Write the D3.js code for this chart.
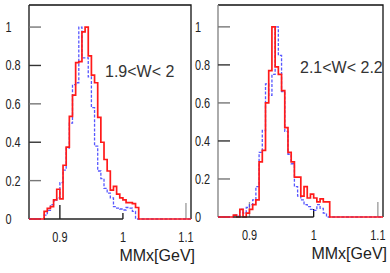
<!DOCTYPE html>
<html>
<head>
<meta charset="utf-8">
<script src="https://cdn.jsdelivr.net/npm/d3@7"></script>
<style>
  body { margin: 0; background: #fff; }
  svg { display: block; }
  text { font-family: "Liberation Sans", Arial, sans-serif; }
</style>
</head>
<body>
<svg width="390" height="273"></svg>
<script>
// lower edges of the MMx bins [GeV]
const bins = [0.875, 0.880, 0.885, 0.890, 0.895, 0.900, 0.905, 0.910, 0.915, 0.920,
              0.925, 0.930, 0.935, 0.940, 0.945, 0.950, 0.955, 0.960, 0.965, 0.970,
              0.975, 0.980, 0.985, 0.990, 0.995, 1.000, 1.005, 1.010, 1.015, 1.020];
const binWidth = 0.005;

// 1.9 < W < 2
const redLeft  = [0.04, 0.055, 0.065, 0.10, 0.155, 0.105, 0.28, 0.375, 0.535, 0.645,
                  0.815, 0.82, 0.975, 1.0, 0.85, 0.75, 0.71, 0.53, 0.40, 0.31,
                  0.25, 0.15, 0.17, 0.13, 0.11, 0.10, 0.085, 0.085, 0.08, 0.06];
const blueLeft = [0.02, 0.045, 0.075, 0.095, 0.11, 0.19, 0.255, 0.37, 0.50, 0.70,
                  0.71, 1.0, 0.84, 0.84, 0.74, 0.58, 0.38, 0.25, 0.21, 0.16,
                  0.135, 0.11, 0.064, 0.057, 0.052, 0.047, 0.06, 0.057, 0.04, 0];

// 2.1 < W < 2.2
const redRight  = [0.01, 0, 0.04, 0, 0.02, 0.04, 0.065, 0.09, 0.29, 0.35,
                   0.60, 0.77, 1.0, 0.79, 0.75, 0.665, 0.47, 0.34, 0.29, 0.21,
                   0.21, 0.11, 0.16, 0.10, 0.12, 0.10, 0.08, 0.095, 0.08, 0.08];
const blueRight = [0.01, 0.005, 0.04, 0.02, 0.05, 0.065, 0.09, 0.16, 0.34, 0.455,
                   0.70, 0.64, 0.75, 1.0, 0.85, 0.66, 0.45, 0.33, 0.28, 0.16,
                   0.11, 0.09, 0.065, 0.055, 0.04, 0.035, 0.065, 0.045, 0.02, 0];

const xTicks = [0.9, 1, 1.1];
const yTicks = [0, 0.2, 0.4, 0.6, 0.8, 1];
const wLabels = ["1.9<W< 2", "2.1<W< 2.2"];
const xTitle = "MMx[GeV]";

const svg = d3.select("svg");

const panels = [
  { red: redLeft, blue: blueLeft, label: wLabels[0],
    left: 29, right: 191, top: 5, bottom: 219, yLab: 5.5,
    labX: 105, labY: 77, axisCol: "#222",
    xt: [{len: 14, col: "#111"}, {len: 6, col: "#111"}, {len: 16, col: "#999"}] },
  { red: redRight, blue: blueRight, label: wLabels[1],
    left: 218, right: 383, top: 5, bottom: 217, yLab: 195,
    labX: 300, labY: 73, axisCol: "#888",
    xt: [{len: 15, col: "#999"}, {len: 8, col: "#111"}, {len: 15, col: "#999"}] }
];

const histLine = d3.line().curve(d3.curveStepAfter);

panels.forEach(p => {
  const x = d3.scaleLinear().domain([0.851, 1.108]).range([p.left, p.right]);
  const y = d3.scaleLinear().domain([0, 1.115]).range([p.bottom, p.top]);
  const g = svg.append("g");

  // frame
  g.append("path")
    .attr("d", `M${p.left} ${p.top} L${p.right} ${p.top} L${p.right} ${p.bottom}`)
    .attr("fill", "none").attr("stroke", "#111").attr("stroke-width", 1.3);
  g.append("line")
    .attr("x1", p.left).attr("x2", p.left).attr("y1", p.top).attr("y2", p.bottom)
    .attr("stroke", p.axisCol).attr("stroke-width", 1.4);

  // y ticks + labels
  g.selectAll(".yt").data(yTicks).join("line")
    .attr("x1", p.left).attr("x2", p.left + 12)
    .attr("y1", d => y(d)).attr("y2", d => y(d))
    .attr("stroke", (d, i) => i % 2 ? "#777" : "#333").attr("stroke-width", 1.4);
  g.selectAll(".yl").data(yTicks).join("text")
    .attr("transform", d => `translate(${p.yLab},${y(d) + 5}) scale(0.78,1)`)
    .attr("font-size", 14).attr("fill", "#222")
    .text(d => d3.format("~g")(d));

  // x ticks + labels
  g.selectAll(".xt").data(xTicks).join("line")
    .attr("x1", d => x(d)).attr("x2", d => x(d))
    .attr("y1", p.bottom).attr("y2", (d, i) => p.bottom - p.xt[i].len)
    .attr("stroke", (d, i) => p.xt[i].col).attr("stroke-width", 1.3);
  g.selectAll(".xl").data(xTicks).join("text")
    .attr("transform", d => `translate(${x(d)},${p.bottom + 23}) scale(0.78,1)`)
    .attr("text-anchor", "middle")
    .attr("font-size", 14).attr("fill", "#222")
    .text(d => d3.format("~g")(d));

  g.append("text")
    .attr("x", p.right + 4).attr("y", p.bottom + 42)
    .attr("text-anchor", "end").attr("font-size", 16).attr("fill", "#222")
    .text(xTitle);

  const pts = vals => {
    const a = [[x.domain()[0], 0]];
    vals.forEach((v, i) => a.push([bins[i], v]));
    a.push([bins[bins.length - 1] + binWidth, 0]);
    a.push([x.domain()[1], 0]);
    return a.map(d => [x(d[0]), y(d[1])]);
  };

  // blue dashed histogram
  g.append("path")
    .attr("d", histLine(pts(p.blue)))
    .attr("fill", "none").attr("stroke", "#3a3aff").attr("stroke-opacity", 0.85)
    .attr("stroke-width", 1.3).attr("stroke-dasharray", "3,1.6");

  // red histogram
  g.append("path")
    .attr("d", histLine(pts(p.red)))
    .attr("fill", "none").attr("stroke", "#ff1a1a")
    .attr("stroke-width", 1.7).attr("stroke-linejoin", "miter");

  // dark axis piece under the histogram
  g.append("line")
    .attr("x1", x(bins[0])).attr("x2", x(1))
    .attr("y1", p.bottom).attr("y2", p.bottom)
    .attr("stroke", "#222").attr("stroke-width", 1.4);

  g.append("text")
    .attr("x", p.labX).attr("y", p.labY)
    .attr("font-size", 16).attr("fill", "#333")
    .text(p.label);
});
</script>
</body>
</html>
